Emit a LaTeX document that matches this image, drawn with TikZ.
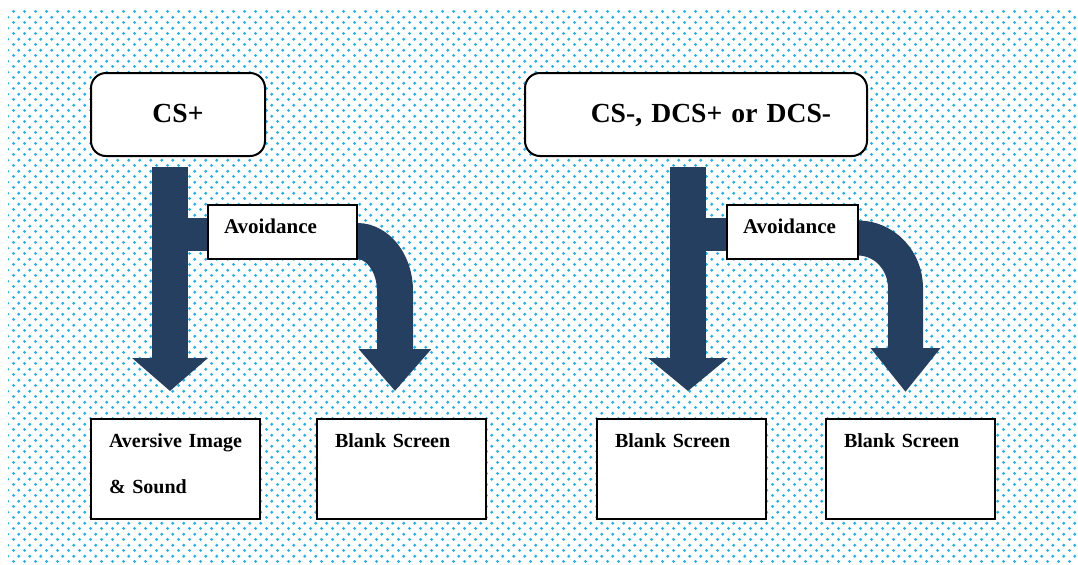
\documentclass[tikz,border=0pt]{standalone}
\usepackage{fontspec}
\setmainfont{Liberation Serif}
\usetikzlibrary{arrows.meta, positioning, patterns, backgrounds}

\definecolor{navy}{RGB}{36,63,96}
\definecolor{dotblue}{RGB}{30,178,240}

% staggered dot tile for the backdrop
\pgfdeclarepatternformonly{bgdots}{\pgfpointorigin}{\pgfpoint{5.333pt}{5.333pt}}{\pgfpoint{5.333pt}{5.333pt}}{%
  \pgfpathcircle{\pgfpoint{1.333pt}{1.333pt}}{0.8pt}%
  \pgfpathcircle{\pgfpoint{4pt}{4pt}}{0.8pt}%
  \pgfusepath{fill}}

\begin{document}
\begin{tikzpicture}[
    x=0.5pt, y=-0.5pt,
    node distance=28.5pt,
    topbox/.style={draw, line width=1pt, fill=white, rounded corners=7.5pt, anchor=north west, outer sep=0pt, inner ysep=0pt, align=center, text height=24.5pt, text depth=17pt, font=\bfseries\fontsize{13.8pt}{16pt}\selectfont},
    avoid/.style={draw, line width=1pt, fill=white, anchor=north west, outer sep=0pt, inner xsep=8pt, inner ysep=0pt, align=left, text height=14pt, text depth=13pt, font=\bfseries\fontsize{10.5pt}{12pt}\selectfont},
    outbox/.style={draw, line width=1pt, fill=white, anchor=north west, outer sep=0pt, inner xsep=9pt, inner ysep=0pt, text width=66.5pt, align=left, text height=14pt, text depth=36pt, font=\bfseries\fontsize{10pt}{23pt}\selectfont},
    mainarrow/.style={draw=navy, line width=18pt},
    branch/.style={draw=navy, line width=16.5pt}
]
    \useasboundingbox (0,0) rectangle (1078,564);

    % Nodes
    \node[topbox, text width=26pt, inner xsep=30.5pt] (csp) at (91,73) {CS+};
    \node[topbox, text width=150pt, inner xsep=10.5pt] (csm) at (525,73) {\hspace*{15pt}CS-, DCS+ or DCS-};

    \node[avoid, text width=58.5pt] (avA) at (208,205) {Avoidance};
    \node[avoid, text width=49.5pt] (avB) at (727,205) {Avoidance};

    \node[outbox] (out1) at (91,419) {Aversive Image\\\& Sound};
    \node[outbox, right=of out1] (out2) {Blank Screen};
    \node[outbox] (out3) at (597,419) {Blank Screen};
    \node[outbox, right=30pt of out3] (out4) {Blank Screen};

    % arrow ends
    \coordinate (sA) at (170,167);
    \coordinate (tA) at (170,391);
    \coordinate (jA) at (170,234);
    \coordinate (kA) at (avA.east |- 0,241);
    \coordinate (eA) at (395,391);

    \coordinate (sB) at (688,167);
    \coordinate (tB) at (688,391);
    \coordinate (jB) at (688,234);
    \coordinate (kB) at (avB.east |- 0,238);
    \coordinate (eB) at (905.5,392);

    \begin{scope}[on background layer]
        % Backdrop
        \fill[white] (0,0) rectangle (1078,564);
        \fill[pattern=bgdots, pattern color=dotblue] (8,8) rectangle (1078,564);

        % Edges
        \draw[mainarrow, -{Triangle[width=37pt, length=16.5pt]}] (sA) -- (tA);
        \draw[branch] (jA) -- (jA -| avA.west);
        \draw[mainarrow, -{Triangle[width=35pt, length=21pt]}] (kA) arc[start angle=-90, end angle=0, x radius=38, y radius=50] -- (eA);

        \draw[mainarrow, -{Triangle[width=39pt, length=16.5pt]}] (sB) -- (tB);
        \draw[branch] (jB) -- (jB -| avB.west);
        \draw[mainarrow, line width=17.5pt, -{Triangle[width=33.5pt, length=22pt]}] (kB) arc[start angle=-90, end angle=0, x radius=47.5, y radius=50] -- (eB);
    \end{scope}
\end{tikzpicture}
\end{document}
